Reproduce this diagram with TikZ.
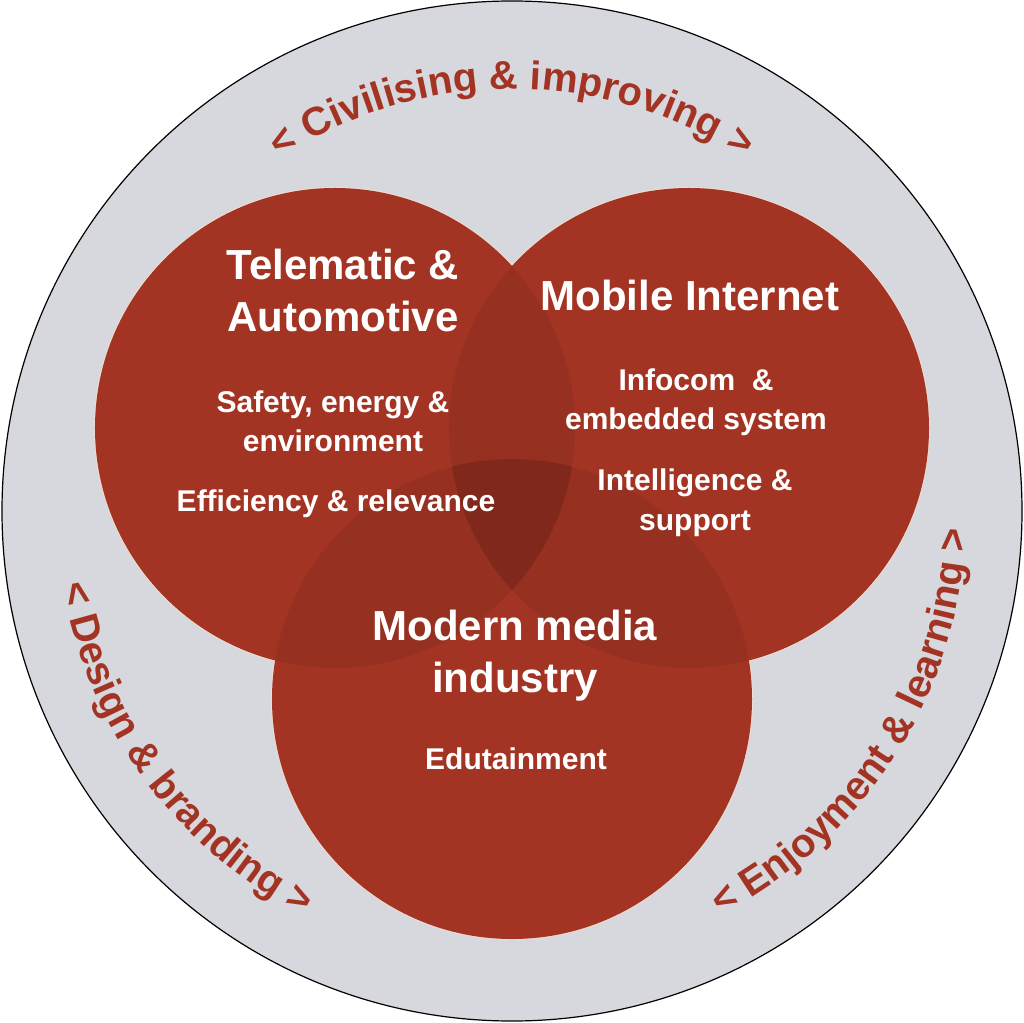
\documentclass[tikz,border=0pt]{standalone}
\usepackage{fontspec}
\setmainfont{Liberation Sans}
\usetikzlibrary{decorations.text}

\definecolor{ringgray}{HTML}{D7D8DD}
\definecolor{vennred}{HTML}{A33424}
\definecolor{rimcream}{HTML}{EEDDD0}

\newcommand\titlefont{\fontsize{42}{52}\selectfont\bfseries}
\newcommand\subfont{\fontsize{30}{39.5}\selectfont\bfseries}
\newcommand\arcfont{\fontsize{40}{48}\selectfont\bfseries}

\begin{document}
\begin{tikzpicture}[x=1pt,y=1pt,text=white]
  \tikzstyle{venn}=[fill=vennred]
  \tikzstyle{rim}=[draw=rimcream,line width=2pt]
  \tikzstyle{overlap}=[fill=black,fill opacity=0.075]
  \tikzstyle{vtitle}=[font=\titlefont,align=center,anchor=base]
  \tikzstyle{vsub}=[font=\subfont,align=center,anchor=base]
  \tikzstyle{arctext}=[decorate,decoration={text along path,text align=center,text color=vennred}]

  \useasboundingbox (-512,-511) rectangle (512,511);

  \coordinate (ctr)    at (0,0);
  \coordinate (tele)   at (-177,83);
  \coordinate (mobile) at (177,83);
  \coordinate (media)  at (0,-188);

  \filldraw[fill=ringgray,draw=black,line width=1.2pt] (ctr) circle (510);

  \path[rim] (tele) circle (240) (mobile) circle (240) (media) circle (240);
  \fill[venn] (tele) circle (240) (mobile) circle (240) (media) circle (240);

  \begin{scope}
    \clip (tele) circle (240);
    \fill[overlap] (mobile) circle (240);
    \fill[overlap] (media) circle (240);
  \end{scope}
  \begin{scope}
    \clip (mobile) circle (240);
    \fill[overlap] (media) circle (240);
  \end{scope}

  % base anchor sits on the last line
  \node[vtitle] (teletitle) at (-169,179) {Telematic \&\\Automotive};
  \node[vsub]   (safety)    at (-179,59)  {Safety, energy \&\\environment};
  \node[vsub]   (effic)     at (-176,-1)  {Efficiency \& relevance};

  \node[vtitle] (mobtitle)  at (178,200)  {Mobile Internet};
  \node[vsub]   (infocom)   at (184,81)   {Infocom\ \ \&\\embedded system};
  \node[vsub]   (intel)     at (183,-19)  {Intelligence \&\\support};

  \node[vtitle] (medtitle)  at (3,-181)   {Modern media\\industry};
  \node[vsub]   (edutain)   at (4,-258)   {Edutainment};

  \path[arctext,decoration={text={|\arcfont|< Civilising {\&} improving >}}]
    (150:422) arc[start angle=150,end angle=30,radius=422];
  \path[arctext,decoration={text={|\arcfont|< Design {\&} branding >}}]
    (171:455) arc[start angle=171,end angle=261,radius=455];
  \path[arctext,decoration={text={|\arcfont|< Enjoyment {\&} learning >}}]
    (280:455) arc[start angle=280,end angle=375,radius=455];
\end{tikzpicture}
\end{document}
